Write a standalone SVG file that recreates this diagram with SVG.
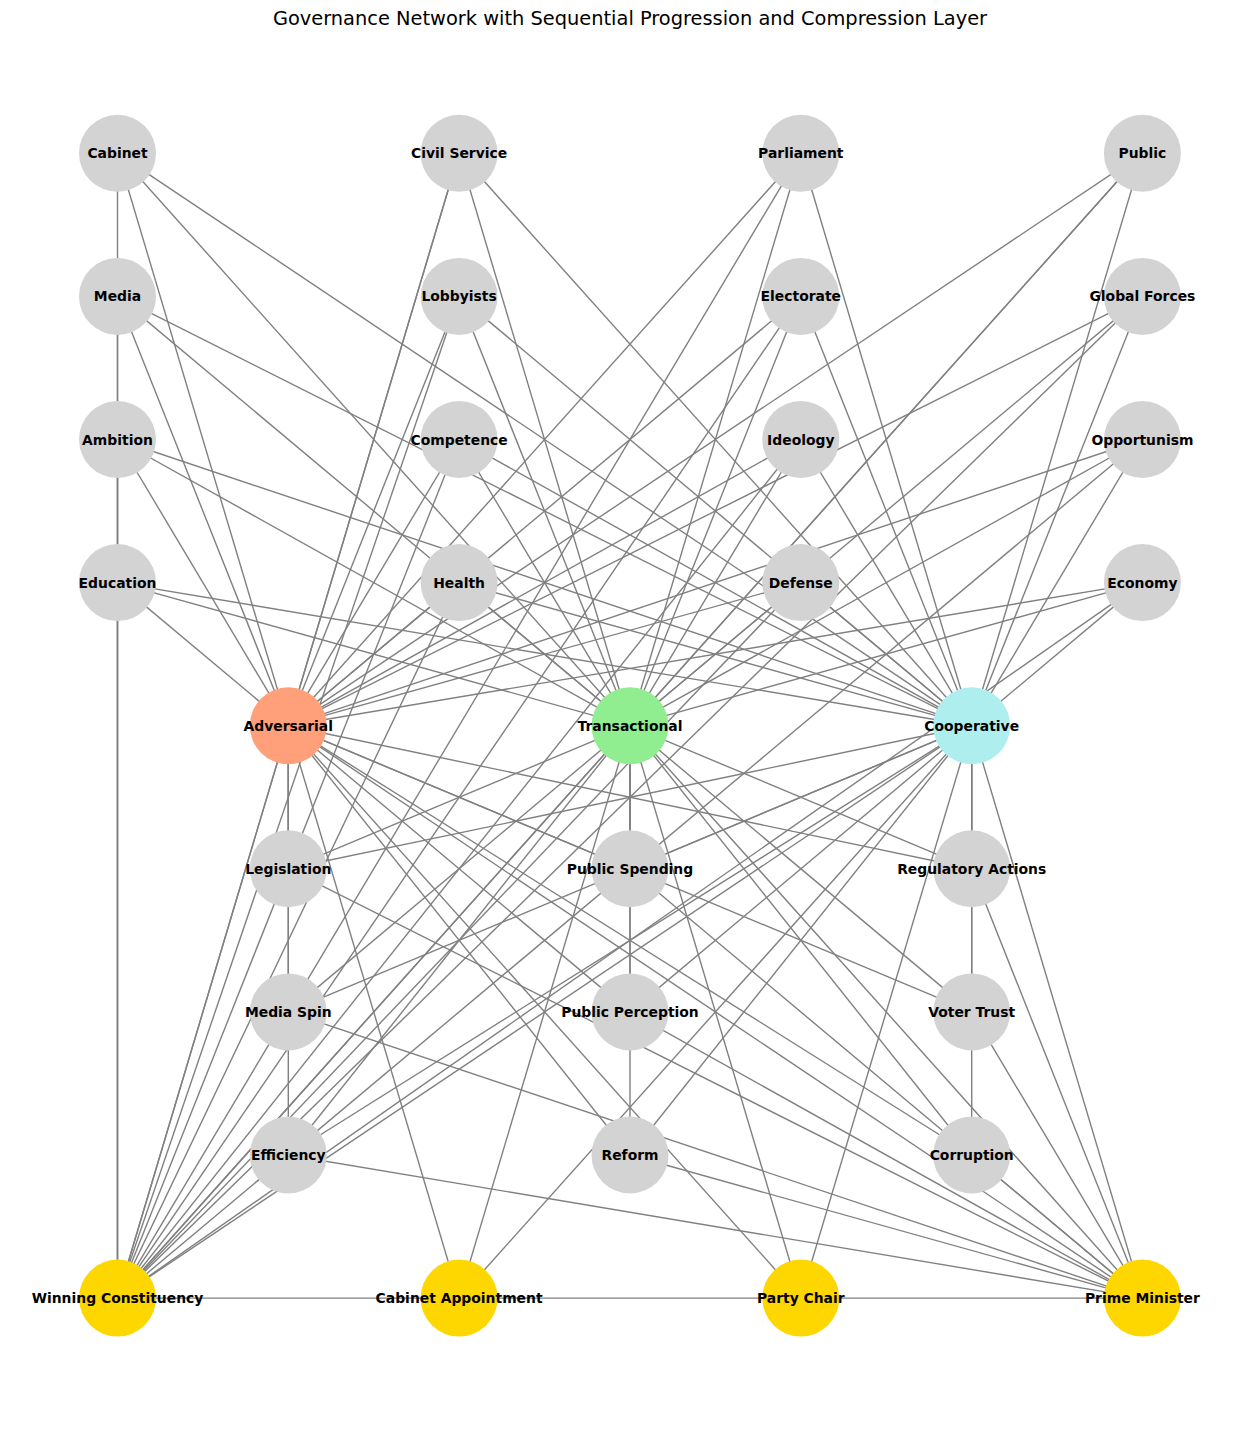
<svg xmlns="http://www.w3.org/2000/svg" width="1260" height="1429" viewBox="0 0 1260 1429">
<style>
.e line{stroke:#808080;stroke-width:1.4;fill:none}
.n circle{stroke:none}
.grey{fill:#d3d3d3}
.adv{fill:#ffa07a}
.tra{fill:#90ee90}
.coop{fill:#afeeee}
.goal{fill:#ffd700}
.n text{font-family:"DejaVu Sans","Liberation Sans",sans-serif;font-size:13.9px;font-weight:bold;fill:#000;text-anchor:middle}
.title{font-family:"DejaVu Sans","Liberation Sans",sans-serif;font-size:19.4px;fill:#000;text-anchor:middle}
</style>
<rect width="1260" height="1429" fill="#ffffff"/>
<text class="title" x="630" y="25">Governance Network with Sequential Progression and Compression Layer</text>
<g id="connectors" class="e">
<!-- top row to strategies and Winning Constituency -->
<line x1="117.5" y1="153.3" x2="288.3" y2="725.7"/><line x1="117.5" y1="153.3" x2="630" y2="725.7"/><line x1="117.5" y1="153.3" x2="971.7" y2="725.7"/><line x1="117.5" y1="153.3" x2="117.5" y2="296.4"/>
<line x1="459.1" y1="153.3" x2="288.3" y2="725.7"/><line x1="459.1" y1="153.3" x2="630" y2="725.7"/><line x1="459.1" y1="153.3" x2="971.7" y2="725.7"/><line x1="459.1" y1="153.3" x2="117.5" y2="1298.1"/>
<line x1="800.8" y1="153.3" x2="288.3" y2="725.7"/><line x1="800.8" y1="153.3" x2="630" y2="725.7"/><line x1="800.8" y1="153.3" x2="971.7" y2="725.7"/><line x1="800.8" y1="153.3" x2="117.5" y2="1298.1"/>
<line x1="1142.4" y1="153.3" x2="288.3" y2="725.7"/><line x1="1142.4" y1="153.3" x2="630" y2="725.7"/><line x1="1142.4" y1="153.3" x2="971.7" y2="725.7"/><line x1="1142.4" y1="153.3" x2="117.5" y2="1298.1"/>
<line x1="117.5" y1="296.4" x2="288.3" y2="725.7"/><line x1="117.5" y1="296.4" x2="630" y2="725.7"/><line x1="117.5" y1="296.4" x2="971.7" y2="725.7"/><line x1="117.5" y1="296.4" x2="117.5" y2="1298.1"/>
<line x1="459.1" y1="296.4" x2="288.3" y2="725.7"/><line x1="459.1" y1="296.4" x2="630" y2="725.7"/><line x1="459.1" y1="296.4" x2="971.7" y2="725.7"/><line x1="459.1" y1="296.4" x2="117.5" y2="1298.1"/>
<line x1="800.8" y1="296.4" x2="288.3" y2="725.7"/><line x1="800.8" y1="296.4" x2="630" y2="725.7"/><line x1="800.8" y1="296.4" x2="971.7" y2="725.7"/><line x1="800.8" y1="296.4" x2="117.5" y2="1298.1"/>
<line x1="1142.4" y1="296.4" x2="288.3" y2="725.7"/><line x1="1142.4" y1="296.4" x2="630" y2="725.7"/><line x1="1142.4" y1="296.4" x2="971.7" y2="725.7"/><line x1="1142.4" y1="296.4" x2="117.5" y2="1298.1"/>
<line x1="117.5" y1="439.5" x2="288.3" y2="725.7"/><line x1="117.5" y1="439.5" x2="630" y2="725.7"/><line x1="117.5" y1="439.5" x2="971.7" y2="725.7"/><line x1="117.5" y1="439.5" x2="117.5" y2="1298.1"/>
<line x1="459.1" y1="439.5" x2="288.3" y2="725.7"/><line x1="459.1" y1="439.5" x2="630" y2="725.7"/><line x1="459.1" y1="439.5" x2="971.7" y2="725.7"/><line x1="459.1" y1="439.5" x2="117.5" y2="1298.1"/>
<line x1="800.8" y1="439.5" x2="288.3" y2="725.7"/><line x1="800.8" y1="439.5" x2="630" y2="725.7"/><line x1="800.8" y1="439.5" x2="971.7" y2="725.7"/><line x1="800.8" y1="439.5" x2="117.5" y2="1298.1"/>
<line x1="1142.4" y1="439.5" x2="288.3" y2="725.7"/><line x1="1142.4" y1="439.5" x2="630" y2="725.7"/><line x1="1142.4" y1="439.5" x2="971.7" y2="725.7"/><line x1="1142.4" y1="439.5" x2="117.5" y2="1298.1"/>
<line x1="117.5" y1="582.6" x2="288.3" y2="725.7"/><line x1="117.5" y1="582.6" x2="630" y2="725.7"/><line x1="117.5" y1="582.6" x2="971.7" y2="725.7"/><line x1="117.5" y1="582.6" x2="117.5" y2="1298.1"/>
<line x1="459.1" y1="582.6" x2="288.3" y2="725.7"/><line x1="459.1" y1="582.6" x2="630" y2="725.7"/><line x1="459.1" y1="582.6" x2="971.7" y2="725.7"/><line x1="459.1" y1="582.6" x2="117.5" y2="1298.1"/>
<line x1="800.8" y1="582.6" x2="288.3" y2="725.7"/><line x1="800.8" y1="582.6" x2="630" y2="725.7"/><line x1="800.8" y1="582.6" x2="971.7" y2="725.7"/><line x1="800.8" y1="582.6" x2="117.5" y2="1298.1"/>
<line x1="1142.4" y1="582.6" x2="288.3" y2="725.7"/><line x1="1142.4" y1="582.6" x2="630" y2="725.7"/><line x1="1142.4" y1="582.6" x2="971.7" y2="725.7"/><line x1="1142.4" y1="582.6" x2="117.5" y2="1298.1"/>
<line x1="117.5" y1="296.4" x2="117.5" y2="439.5"/><line x1="117.5" y1="439.5" x2="117.5" y2="582.6"/>
<!-- strategies to middle layer and Prime Minister -->
<line x1="288.3" y1="725.7" x2="288.3" y2="868.8"/><line x1="630" y1="725.7" x2="288.3" y2="868.8"/><line x1="971.7" y1="725.7" x2="288.3" y2="868.8"/><line x1="288.3" y1="868.8" x2="1142.4" y2="1298.1"/>
<line x1="288.3" y1="725.7" x2="630" y2="868.8"/><line x1="630" y1="725.7" x2="630" y2="868.8"/><line x1="971.7" y1="725.7" x2="630" y2="868.8"/><line x1="630" y1="868.8" x2="1142.4" y2="1298.1"/>
<line x1="288.3" y1="725.7" x2="971.7" y2="868.8"/><line x1="630" y1="725.7" x2="971.7" y2="868.8"/><line x1="971.7" y1="725.7" x2="971.7" y2="868.8"/><line x1="971.7" y1="868.8" x2="1142.4" y2="1298.1"/>
<line x1="288.3" y1="725.7" x2="288.3" y2="1011.9"/><line x1="630" y1="725.7" x2="288.3" y2="1011.9"/><line x1="971.7" y1="725.7" x2="288.3" y2="1011.9"/><line x1="288.3" y1="1011.9" x2="1142.4" y2="1298.1"/>
<line x1="288.3" y1="725.7" x2="630" y2="1011.9"/><line x1="630" y1="725.7" x2="630" y2="1011.9"/><line x1="971.7" y1="725.7" x2="630" y2="1011.9"/><line x1="630" y1="1011.9" x2="1142.4" y2="1298.1"/>
<line x1="288.3" y1="725.7" x2="971.7" y2="1011.9"/><line x1="630" y1="725.7" x2="971.7" y2="1011.9"/><line x1="971.7" y1="725.7" x2="971.7" y2="1011.9"/><line x1="971.7" y1="1011.9" x2="1142.4" y2="1298.1"/>
<line x1="288.3" y1="725.7" x2="288.3" y2="1155"/><line x1="630" y1="725.7" x2="288.3" y2="1155"/><line x1="971.7" y1="725.7" x2="288.3" y2="1155"/><line x1="288.3" y1="1155" x2="1142.4" y2="1298.1"/>
<line x1="288.3" y1="725.7" x2="630" y2="1155"/><line x1="630" y1="725.7" x2="630" y2="1155"/><line x1="971.7" y1="725.7" x2="630" y2="1155"/><line x1="630" y1="1155" x2="1142.4" y2="1298.1"/>
<line x1="288.3" y1="725.7" x2="971.7" y2="1155"/><line x1="630" y1="725.7" x2="971.7" y2="1155"/><line x1="971.7" y1="725.7" x2="971.7" y2="1155"/><line x1="971.7" y1="1155" x2="1142.4" y2="1298.1"/>
<!-- strategies to goals -->
<line x1="288.3" y1="725.7" x2="117.5" y2="1298.1"/><line x1="288.3" y1="725.7" x2="459.1" y2="1298.1"/><line x1="288.3" y1="725.7" x2="800.8" y2="1298.1"/><line x1="288.3" y1="725.7" x2="1142.4" y2="1298.1"/>
<line x1="630" y1="725.7" x2="117.5" y2="1298.1"/><line x1="630" y1="725.7" x2="459.1" y2="1298.1"/><line x1="630" y1="725.7" x2="800.8" y2="1298.1"/><line x1="630" y1="725.7" x2="1142.4" y2="1298.1"/>
<line x1="971.7" y1="725.7" x2="117.5" y2="1298.1"/><line x1="971.7" y1="725.7" x2="459.1" y2="1298.1"/><line x1="971.7" y1="725.7" x2="800.8" y2="1298.1"/><line x1="971.7" y1="725.7" x2="1142.4" y2="1298.1"/>
<!-- sequential goals -->
<line x1="117.5" y1="1298.1" x2="459.1" y2="1298.1"/><line x1="459.1" y1="1298.1" x2="800.8" y2="1298.1"/><line x1="800.8" y1="1298.1" x2="1142.4" y2="1298.1"/>
</g>
<g id="nodes" class="n">
<g id="n-cabinet"><circle class="grey" cx="117.5" cy="153.3" r="38.5"/><text x="117.5" y="158.3">Cabinet</text></g>
<g id="n-civil-service"><circle class="grey" cx="459.1" cy="153.3" r="38.5"/><text x="459.1" y="158.3">Civil Service</text></g>
<g id="n-parliament"><circle class="grey" cx="800.8" cy="153.3" r="38.5"/><text x="800.8" y="158.3">Parliament</text></g>
<g id="n-public"><circle class="grey" cx="1142.4" cy="153.3" r="38.5"/><text x="1142.4" y="158.3">Public</text></g>
<g id="n-media"><circle class="grey" cx="117.5" cy="296.4" r="38.5"/><text x="117.5" y="301.4">Media</text></g>
<g id="n-lobbyists"><circle class="grey" cx="459.1" cy="296.4" r="38.5"/><text x="459.1" y="301.4">Lobbyists</text></g>
<g id="n-electorate"><circle class="grey" cx="800.8" cy="296.4" r="38.5"/><text x="800.8" y="301.4">Electorate</text></g>
<g id="n-global-forces"><circle class="grey" cx="1142.4" cy="296.4" r="38.5"/><text x="1142.4" y="301.4">Global Forces</text></g>
<g id="n-ambition"><circle class="grey" cx="117.5" cy="439.5" r="38.5"/><text x="117.5" y="444.5">Ambition</text></g>
<g id="n-competence"><circle class="grey" cx="459.1" cy="439.5" r="38.5"/><text x="459.1" y="444.5">Competence</text></g>
<g id="n-ideology"><circle class="grey" cx="800.8" cy="439.5" r="38.5"/><text x="800.8" y="444.5">Ideology</text></g>
<g id="n-opportunism"><circle class="grey" cx="1142.4" cy="439.5" r="38.5"/><text x="1142.4" y="444.5">Opportunism</text></g>
<g id="n-education"><circle class="grey" cx="117.5" cy="582.6" r="38.5"/><text x="117.5" y="587.6">Education</text></g>
<g id="n-health"><circle class="grey" cx="459.1" cy="582.6" r="38.5"/><text x="459.1" y="587.6">Health</text></g>
<g id="n-defense"><circle class="grey" cx="800.8" cy="582.6" r="38.5"/><text x="800.8" y="587.6">Defense</text></g>
<g id="n-economy"><circle class="grey" cx="1142.4" cy="582.6" r="38.5"/><text x="1142.4" y="587.6">Economy</text></g>
<g id="n-adversarial"><circle class="adv" cx="288.3" cy="725.7" r="38.5"/><text x="288.3" y="730.7">Adversarial</text></g>
<g id="n-transactional"><circle class="tra" cx="630" cy="725.7" r="38.5"/><text x="630" y="730.7">Transactional</text></g>
<g id="n-cooperative"><circle class="coop" cx="971.7" cy="725.7" r="38.5"/><text x="971.7" y="730.7">Cooperative</text></g>
<g id="n-legislation"><circle class="grey" cx="288.3" cy="868.8" r="38.5"/><text x="288.3" y="873.8">Legislation</text></g>
<g id="n-public-spending"><circle class="grey" cx="630" cy="868.8" r="38.5"/><text x="630" y="873.8">Public Spending</text></g>
<g id="n-regulatory-actions"><circle class="grey" cx="971.7" cy="868.8" r="38.5"/><text x="971.7" y="873.8">Regulatory Actions</text></g>
<g id="n-media-spin"><circle class="grey" cx="288.3" cy="1011.9" r="38.5"/><text x="288.3" y="1016.9">Media Spin</text></g>
<g id="n-public-perception"><circle class="grey" cx="630" cy="1011.9" r="38.5"/><text x="630" y="1016.9">Public Perception</text></g>
<g id="n-voter-trust"><circle class="grey" cx="971.7" cy="1011.9" r="38.5"/><text x="971.7" y="1016.9">Voter Trust</text></g>
<g id="n-efficiency"><circle class="grey" cx="288.3" cy="1155" r="38.5"/><text x="288.3" y="1160">Efficiency</text></g>
<g id="n-reform"><circle class="grey" cx="630" cy="1155" r="38.5"/><text x="630" y="1160">Reform</text></g>
<g id="n-corruption"><circle class="grey" cx="971.7" cy="1155" r="38.5"/><text x="971.7" y="1160">Corruption</text></g>
<g id="n-winning-constituency"><circle class="goal" cx="117.5" cy="1298.1" r="38.5"/><text x="117.5" y="1303.1">Winning Constituency</text></g>
<g id="n-cabinet-appointment"><circle class="goal" cx="459.1" cy="1298.1" r="38.5"/><text x="459.1" y="1303.1">Cabinet Appointment</text></g>
<g id="n-party-chair"><circle class="goal" cx="800.8" cy="1298.1" r="38.5"/><text x="800.8" y="1303.1">Party Chair</text></g>
<g id="n-prime-minister"><circle class="goal" cx="1142.4" cy="1298.1" r="38.5"/><text x="1142.4" y="1303.1">Prime Minister</text></g>
</g>
</svg>
